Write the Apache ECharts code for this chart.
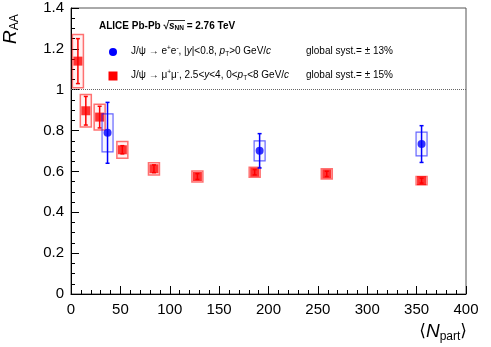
<!DOCTYPE html>
<html>
<head>
<meta charset="utf-8">
<script src="https://cdn.jsdelivr.net/npm/echarts@6/dist/echarts.min.js"></script>
<style>
html, body { margin: 0; padding: 0; background: #fff; }
#chart { width: 491px; height: 347px; }
</style>
</head>
<body>
<div id="chart"></div>
<script>
// J/psi -> mu+mu- (forward rapidity)
var muonNpart = [7, 15, 29, 52, 84, 128, 186, 259, 355];
var muonRaa   = [1.14, 0.897, 0.866, 0.706, 0.613, 0.575, 0.596, 0.588, 0.555];
var muonStat  = [0.11, 0.07, 0.053, 0.02, 0.019, 0.014, 0.013, 0.013, 0.012];
var muonSyst  = [0.13, 0.08, 0.063, 0.041, 0.03, 0.027, 0.025, 0.025, 0.02];

// J/psi -> e+e- (mid rapidity)
var elecNpart = [37, 191, 355];
var elecRaa   = [0.789, 0.701, 0.734];
var elecStat  = [0.149, 0.084, 0.09];
var elecSyst  = [0.093, 0.049, 0.058];

var xTicks = [0, 50, 100, 150, 200, 250, 300, 350, 400];
var yTicks = [0, 0.2, 0.4, 0.6, 0.8, 1, 1.2, 1.4];

var FONT = 'Liberation Sans';

function rows(xs, ys, es) {
    var out = [];
    for (var i = 0; i < xs.length; i++) out.push([xs[i], ys[i], es[i]]);
    return out;
}

function boxItem(fill, stroke, lw) {
    return function (params, api) {
        var x = api.value(0), y = api.value(1), e = api.value(2);
        var top = api.coord([x, y + e]);
        var bot = api.coord([x, y - e]);
        return {
            type: 'rect',
            shape: { x: top[0] - 5.5, y: top[1], width: 11, height: bot[1] - top[1] },
            style: { fill: fill, stroke: stroke, lineWidth: lw }
        };
    };
}

function errItem(color) {
    return function (params, api) {
        var x = api.value(0), y = api.value(1), e = api.value(2);
        var top = api.coord([x, y + e]);
        var bot = api.coord([x, y - e]);
        var st = { stroke: color, lineWidth: 1.5 };
        return {
            type: 'group',
            children: [
                { type: 'line', shape: { x1: top[0], y1: top[1], x2: bot[0], y2: bot[1] }, style: st },
                { type: 'line', shape: { x1: top[0] - 2, y1: top[1], x2: top[0] + 2, y2: top[1] }, style: st },
                { type: 'line', shape: { x1: bot[0] - 2, y1: bot[1], x2: bot[0] + 2, y2: bot[1] }, style: st }
            ]
        };
    };
}

var chart = echarts.init(document.getElementById('chart'), null, { renderer: 'canvas' });

var axisCommon = {
    type: 'value',
    axisLine: { show: true, lineStyle: { color: '#000', width: 1 } },
    axisTick: { show: true, inside: true, length: 8, lineStyle: { color: '#000' } },
    minorTick: { show: true, length: 4, lineStyle: { color: '#000' } },
    splitLine: { show: false },
    axisLabel: { color: '#000', fontSize: 15, fontFamily: FONT }
};

var textStyle = { fontFamily: FONT, fontSize: 10, fill: '#000' };
var legendRich = {
    t: { fontFamily: FONT, fontSize: 10, fill: '#000' },
    i: { fontFamily: FONT, fontSize: 10, fontStyle: 'italic', fill: '#000' },
    u: { fontFamily: FONT, fontSize: 6.5, fill: '#000', padding: [0, 0, 5, 0] },
    s: { fontFamily: FONT, fontSize: 6.5, fill: '#000', padding: [6, 0, 0, 0] }
};

var option = {
    animation: false,
    backgroundColor: '#fff',
    grid: { left: 71, right: 25, top: 8, bottom: 53, show: true, borderColor: '#555', borderWidth: 1 },
    xAxis: echarts.util.merge({
        min: xTicks[0], max: xTicks[xTicks.length - 1], interval: xTicks[1] - xTicks[0],
        minorTick: { splitNumber: 5 },
        axisLabel: { margin: 8 }
    }, axisCommon),
    yAxis: echarts.util.merge({
        min: yTicks[0], max: yTicks[yTicks.length - 1], interval: 0.2,
        minorTick: { splitNumber: 4 },
        axisLabel: { margin: 7 }
    }, axisCommon),
    series: [
        {
            type: 'custom', name: 'muSyst', z: 2,
            renderItem: boxItem('rgba(255,0,0,0.05)', 'rgba(255,0,0,0.55)', 1.5),
            encode: { x: 0, y: 1 },
            data: rows(muonNpart, muonRaa, muonSyst),
            markLine: {
                silent: true, symbol: 'none', label: { show: false },
                lineStyle: { color: '#666', type: 'dotted', width: 1 },
                data: [{ yAxis: 1 }]
            }
        },
        {
            type: 'custom', name: 'muStat', z: 3,
            renderItem: errItem('#ff0000'),
            encode: { x: 0, y: 1 },
            data: rows(muonNpart, muonRaa, muonStat)
        },
        {
            type: 'scatter', name: 'mu', z: 4,
            symbol: 'rect', symbolSize: 9,
            itemStyle: { color: '#ff0000' },
            data: rows(muonNpart, muonRaa, muonStat).map(function (r) { return [r[0], r[1]]; })
        },
        {
            type: 'custom', name: 'eSyst', z: 5,
            renderItem: boxItem('rgba(0,0,255,0.03)', 'rgba(0,0,255,0.6)', 1.2),
            encode: { x: 0, y: 1 },
            data: rows(elecNpart, elecRaa, elecSyst)
        },
        {
            type: 'custom', name: 'eStat', z: 6,
            renderItem: errItem('#0000ff'),
            encode: { x: 0, y: 1 },
            data: rows(elecNpart, elecRaa, elecStat)
        },
        {
            type: 'scatter', name: 'e', z: 7,
            symbol: 'circle', symbolSize: 8,
            itemStyle: { color: '#0000ff' },
            data: rows(elecNpart, elecRaa, elecStat).map(function (r) { return [r[0], r[1]]; })
        }
    ],
    graphic: [
        // y axis title
        {
            type: 'text', x: 21, y: 44, rotation: Math.PI / 2,
            style: {
                text: '{r|R}{s|AA}',
                textAlign: 'left', textVerticalAlign: 'bottom',
                rich: {
                    r: { fontFamily: FONT, fontSize: 19, fontStyle: 'italic', fill: '#000' },
                    s: { fontFamily: FONT, fontSize: 12, fill: '#000', padding: [9, 0, 0, 0] }
                }
            }
        },
        // x axis title
        {
            type: 'text', x: 467, y: 343,
            style: {
                text: '{a|\u27e8}{n|N}{s|part}{a|\u27e9}',
                textAlign: 'right', textVerticalAlign: 'bottom',
                rich: {
                    a: { fontFamily: 'DejaVu Sans', fontSize: 17, fill: '#000' },
                    n: { fontFamily: FONT, fontSize: 19, fontStyle: 'italic', fill: '#000' },
                    s: { fontFamily: FONT, fontSize: 12, fill: '#000', padding: [10, 0, 0, 0] }
                }
            }
        },
        // legend header
        {
            type: 'text', x: 99, y: 26,
            style: {
                text: '{b|ALICE Pb-Pb }{b|\u221a}{i|s}{s|NN}{b| = 2.76 TeV}',
                textVerticalAlign: 'middle',
                rich: {
                    b: { fontFamily: FONT, fontSize: 10, fontWeight: 'bold', fill: '#000' },
                    i: { fontFamily: FONT, fontSize: 10, fontWeight: 'bold', fontStyle: 'italic', fill: '#000' },
                    s: { fontFamily: FONT, fontSize: 6.5, fontWeight: 'bold', fill: '#000', padding: [5, 0, 0, 0] }
                }
            }
        },
        { type: 'line', shape: { x1: 168, y1: 20.5, x2: 185, y2: 20.5 }, style: { stroke: '#000', lineWidth: 0.8 } },
        // legend entries
        { type: 'circle', shape: { cx: 113, cy: 52, r: 4 }, style: { fill: '#0000ff' } },
        {
            type: 'text', x: 131, y: 51,
            style: {
                text: '{t|J/\u03c8 \u2192 e}{u|+}{t|e}{u|-}{t|, |}{i|y}{t||<0.8, }{i|p}{s|T}{t|>0 GeV/}{i|c}',
                textVerticalAlign: 'middle',
                rich: legendRich
            }
        },
        { type: 'text', x: 306, y: 51, style: echarts.util.extend({ text: 'global syst.= \u00b1 13%', textVerticalAlign: 'middle' }, textStyle) },
        { type: 'rect', shape: { x: 108.5, y: 71.5, width: 9, height: 9 }, style: { fill: '#ff0000' } },
        {
            type: 'text', x: 131, y: 75,
            style: {
                text: '{t|J/\u03c8 \u2192 \u03bc}{u|+}{t|\u03bc}{u|-}{t|, 2.5<}{i|y}{t|<4, 0<}{i|p}{s|T}{t|<8 GeV/}{i|c}',
                textVerticalAlign: 'middle',
                rich: legendRich
            }
        },
        { type: 'text', x: 306, y: 75, style: echarts.util.extend({ text: 'global syst.= \u00b1 15%', textVerticalAlign: 'middle' }, textStyle) }
    ]
};

chart.setOption(option);
</script>
</body>
</html>
